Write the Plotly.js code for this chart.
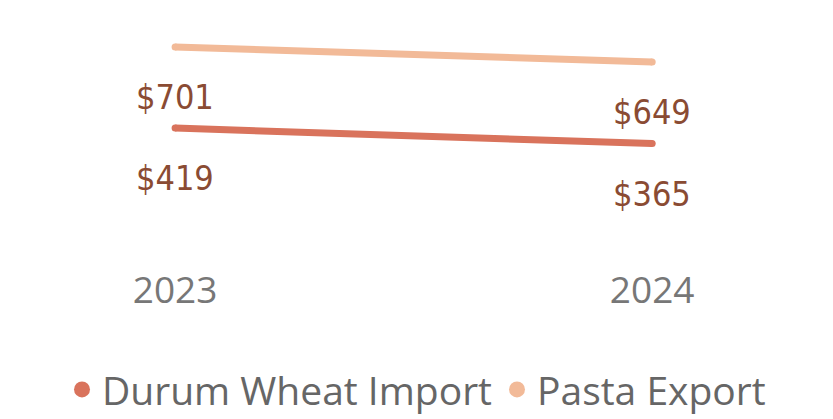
<!DOCTYPE html>
<html><head><meta charset="utf-8">
<script src="https://cdn.plot.ly/plotly-3.0.1.min.js"></script>
<style>html,body{margin:0;padding:0;background:#fff}#c{width:833px;height:419px}</style>
</head><body><div id="c"></div>
<script>
const years = [2023, 2024];
const durumWheatImport = [419, 365];
const pastaExport = [701, 649];
const seriesNames = ['Durum Wheat Import', 'Pasta Export'];
const seriesColors = ['#D9735C', '#F2BA98'];
const labelColor = '#8A4B33';

const seriesData = [durumWheatImport, pastaExport];
const traces = [];
seriesData.forEach((vals, i) => {
  traces.push({
    x: years, y: vals, type: 'scatter', mode: 'lines+markers',
    line: {color: seriesColors[i], width: 7},
    marker: {color: seriesColors[i], size: 7},
    showlegend: false, hoverinfo: 'skip'
  });
});
seriesData.forEach((vals, i) => {
  traces.push({
    x: [null], y: [null], type: 'scatter', mode: 'markers',
    name: seriesNames[i],
    marker: {color: seriesColors[i], size: 16},
    showlegend: true
  });
});

const annotations = [];
seriesData.forEach((vals) => {
  vals.forEach((v, j) => {
    annotations.push({
      x: years[j], y: v, xref: 'x', yref: 'y',
      text: '$' + v, showarrow: false, yshift: -50,
      font: {family: 'DejaVu Sans Condensed, DejaVu Sans, sans-serif', size: 34, color: labelColor}
    });
  });
});

const layout = {
  width: 833, height: 419,
  margin: {l: 0, r: 0, t: 20, b: 159, autoexpand: false},
  paper_bgcolor: '#fff', plot_bgcolor: '#fff',
  xaxis: {
    range: [2022.633, 2024.379], tickvals: years, ticktext: years.map(String),
    showgrid: false, zeroline: false, showline: false, ticks: '',
    ticklabelstandoff: 5,
    tickfont: {family: 'Open Sans, sans-serif', size: 37, color: '#777'}
  },
  yaxis: {
    range: [-39.9, 794.9], visible: false, showgrid: false, zeroline: false
  },
  showlegend: true,
  legend: {
    orientation: 'h', x: 0.5, xanchor: 'center', y: -0.54, yref: 'paper', yanchor: 'middle',
    font: {family: 'Open Sans, sans-serif', size: 39, color: '#666'},
    itemwidth: 30, tracegroupgap: 0
  },
  annotations: annotations
};
Plotly.newPlot('c', traces, layout, {displayModeBar: false, staticPlot: true});
</script></body></html>
